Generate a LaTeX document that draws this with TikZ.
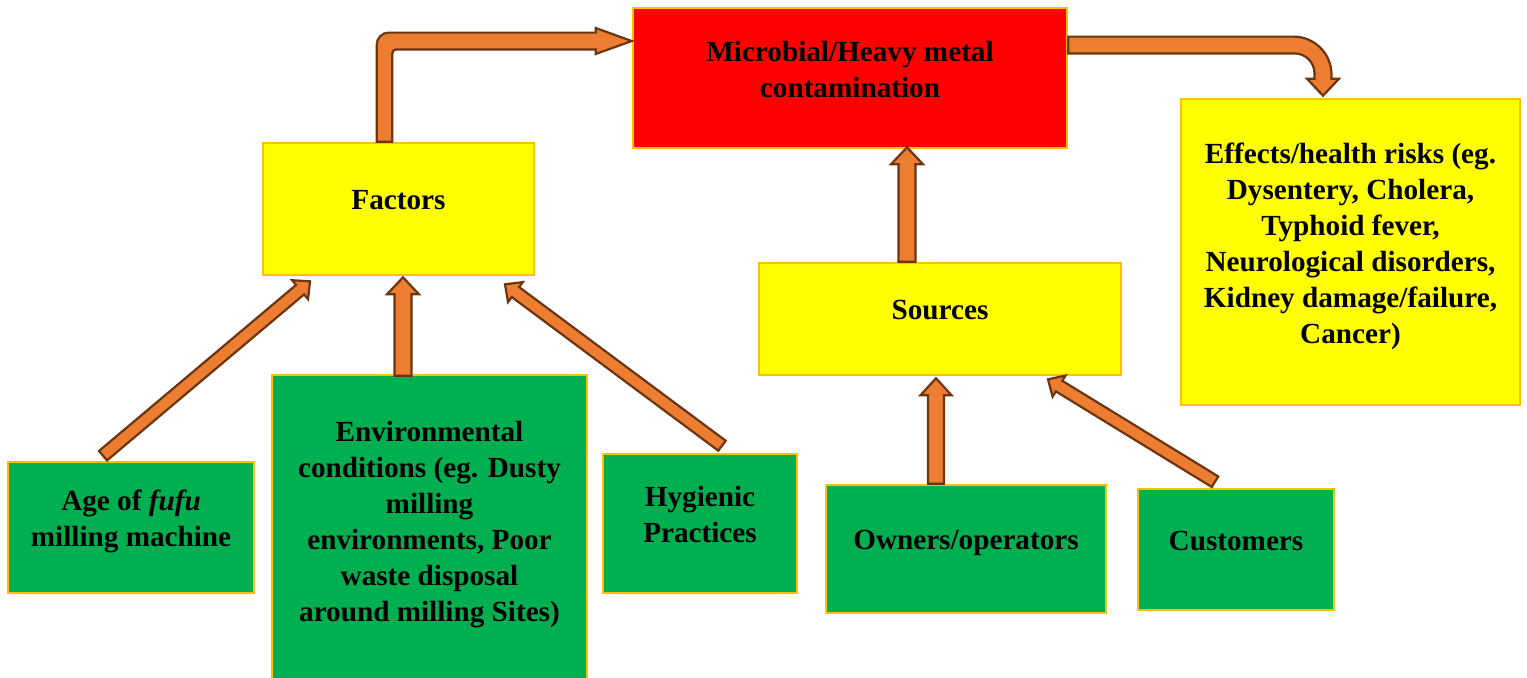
\documentclass[tikz,border=0pt]{standalone}
\usepackage{fontspec}
\setmainfont{Liberation Serif}
\usetikzlibrary{calc}
\definecolor{fmgold}{HTML}{FFC000}
\definecolor{fmred}{HTML}{FF0000}
\definecolor{fmyellow}{HTML}{FFFF00}
\definecolor{fmgreen}{HTML}{00B050}
\definecolor{fmorange}{HTML}{ED7D31}
\definecolor{fmbrown}{HTML}{6B3510}
% straight block arrow: from, to, half shaft, half head, head length
\newcommand{\fmblock}[5]{%
  \coordinate (fmh) at ($(#2)!#5!(#1)$);
  \draw[fmarrow] ($(#1)!#3!90:(#2)$) -- ($(fmh)!#3!90:(#2)$) -- ($(fmh)!#4!90:(#2)$) -- (#2)
    -- ($(fmh)!#4!-90:(#2)$) -- ($(fmh)!#3!-90:(#2)$) -- ($(#1)!#3!-90:(#2)$) -- cycle;}
\tikzset{
  fmbox/.style={draw=fmgold, line width=1.3pt, align=center, inner sep=2pt,
    font=\fontsize{14.6pt}{18pt}\selectfont\bfseries,
    execute at end node={\rule[-9pt]{0pt}{9pt}}},
  fmred/.style={fmbox, fill=fmred},
  fmyellow/.style={fmbox, fill=fmyellow},
  fmgreen/.style={fmbox, fill=fmgreen},
  fmarrow/.style={draw=fmbrown, fill=fmorange, line width=1.1pt}
}
\begin{document}
\begin{tikzpicture}[x=0.5pt, y=-0.5pt]
\useasboundingbox (0,0) rectangle (1527,677);

\node[fmred, minimum width=217pt, minimum height=70pt] (micro) at (850,78) {Microbial/Heavy metal\\contamination};
\node[fmyellow, minimum width=135.5pt, minimum height=66pt] (factors) at (398.5,209) {Factors};
\node[fmyellow, minimum width=181pt, minimum height=56pt] (sources) at (940,319) {Sources};
\node[fmyellow, minimum width=169.5pt, minimum height=153pt] (effects) at (1350.5,252) {Effects/health risks (eg.\\Dysentery, Cholera,\\Typhoid fever,\\Neurological disorders,\\Kidney damage/failure,\\Cancer)};

\node[fmgreen, minimum width=123pt, minimum height=65.5pt] (age) at (131,527.5) {Age of \textit{fufu}\\milling machine};
\node[fmgreen, minimum width=157.5pt, minimum height=155pt] (env) at (429.5,530) {Environmental\\conditions (eg. Dusty\\milling\\environments, Poor\\waste disposal\\around milling Sites)};
\node[fmgreen, minimum width=97pt, minimum height=69.5pt] (hyg) at (700,523.5) {Hygienic\\Practices};
\node[fmgreen, minimum width=140pt, minimum height=64pt] (own) at (966,549) {Owners/operators};
\node[fmgreen, minimum width=98pt, minimum height=60.5pt] (cust) at (1236,549.5) {Customers};

% arrows into Factors
\coordinate (agetail) at ($(age.north)+(-28,-5)$);
\coordinate (agetip) at ($(factors.south)+(-88.5,5)$);
\fmblock{agetail}{agetip}{3.1pt}{6.2pt}{6.5pt}
\coordinate (envtail) at ($(env.north)+(-26.5,2)$);
\coordinate (envtip) at ($(factors.south)+(4.5,1)$);
\fmblock{envtail}{envtip}{4.25pt}{8pt}{8.5pt}
\coordinate (hygtail) at ($(hyg.north)+(22,-7)$);
\coordinate (hygtip) at ($(factors.south)+(106.5,8)$);
\fmblock{hygtail}{hygtip}{3.1pt}{6.2pt}{6.5pt}

% arrows into Sources and up to the contamination box
\coordinate (owntail) at ($(own.north)+(-30,0)$);
\coordinate (owntip) at ($(sources.south)+(-4,2)$);
\fmblock{owntail}{owntip}{4pt}{7.8pt}{8.5pt}
\coordinate (custtail) at ($(cust.north)+(-21,-6)$);
\coordinate (custtip) at ($(sources.south)+(108,3)$);
\fmblock{custtail}{custtip}{3.1pt}{6.2pt}{6.5pt}
\coordinate (srctail) at ($(sources.north)+(-33,0)$);
\coordinate (srctip) at ($(micro.south)+(57,-2)$);
\fmblock{srctail}{srctip}{4.25pt}{8pt}{8.5pt}

% bent arrows
\coordinate (b1s) at ($(factors.north)+(-14,0)$);
\coordinate (b1t) at ($(micro.west)+(0,-37)$);
\draw[fmarrow] let \p1=(b1s), \p2=(b1t) in
  (\x1-3.9pt,\y1) [rounded corners=6pt] -- (\x1-3.9pt,\y2+4.2pt) [sharp corners]
  -- (\x2-18pt,\y2+4.2pt) -- (\x2-18pt,\y2+6.5pt) -- (\x2,\y2) -- (\x2-18pt,\y2-6.5pt)
  -- (\x2-18pt,\y2-4.2pt) [rounded corners=2pt] -- (\x1+3.9pt,\y2-4.2pt) [sharp corners]
  -- (\x1+3.9pt,\y1) -- cycle;
\coordinate (b2s) at ($(micro.east)+(0,-33)$);
\coordinate (b2t) at ($(effects.north)+(-27.5,-2)$);
\draw[fmarrow] let \p1=(b2s), \p2=(b2t) in
  (\x1,\y1+4.2pt) [rounded corners=19pt] -- (\x2+4.25pt,\y1+4.2pt) [sharp corners]
  -- (\x2+4.25pt,\y2+8.5pt) -- (\x2+8pt,\y2+8.5pt) -- (\x2,\y2) -- (\x2-8pt,\y2+8.5pt)
  -- (\x2-4.25pt,\y2+8.5pt) [rounded corners=10pt] -- (\x2-4.25pt,\y1-4.2pt) [sharp corners]
  -- (\x1,\y1-4.2pt) -- cycle;
\end{tikzpicture}
\end{document}
